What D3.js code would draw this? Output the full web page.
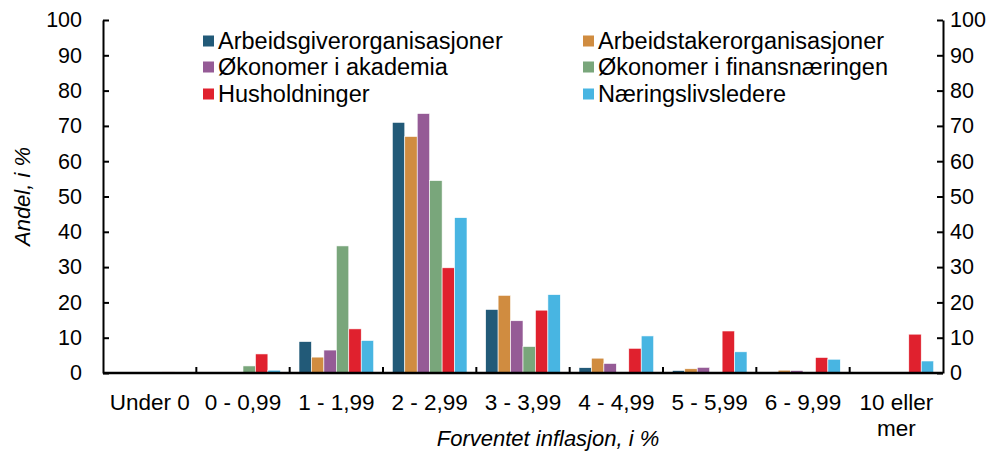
<!DOCTYPE html>
<html>
<head>
<meta charset="utf-8">
<script src="https://cdn.jsdelivr.net/npm/d3@7"></script>
<style>
  body { margin: 0; background: #fff; }
  text { font-family: "Liberation Sans", Arial, sans-serif; fill: #000; }
</style>
</head>
<body>
<script>
const categories = ["Under 0", "0 - 0,99", "1 - 1,99", "2 - 2,99", "3 - 3,99", "4 - 4,99", "5 - 5,99", "6 - 9,99", "10 eller mer"]
const seriesNames = ["Arbeidsgiverorganisasjoner", "Arbeidstakerorganisasjoner", "Økonomer i akademia",
  "Økonomer i finansnæringen", "Husholdninger", "Næringslivsledere"]
const colors = ["#225a78", "#d08c40", "#955b96", "#79a67b", "#e0212e", "#48b5e2"]

const arbeidsgiver = [0, 0, 8.9, 71, 18, 1.5, 0.7, 0, 0]
const arbeidstaker = [0, 0, 4.5, 67, 22, 4.2, 1.2, 0.8, 0]
const akademia = [0.2, 0, 6.5, 73.5, 14.8, 2.7, 1.6, 0.7, 0]
const finans = [0, 2, 36, 54.5, 7.5, 0, 0, 0, 0]
const husholdninger = [0.3, 5.4, 12.5, 29.8, 17.8, 7, 11.9, 4.4, 11]
const naeringsliv = [0, 0.8, 9.2, 44, 22.2, 10.5, 6, 3.9, 3.4]
const series = [arbeidsgiver, arbeidstaker, akademia, finans, husholdninger, naeringsliv]
const yTicks = [0, 10, 20, 30, 40, 50, 60, 70, 80, 90, 100]

const width = 1008, height = 457
const m = { left: 103, right: 65, top: 20, bottom: 84 }

const svg = d3.select("body").append("svg")
  .attr("width", width)
  .attr("height", height)

// full-width band per category, bars take the middle 80%
const xCat = d3.scaleBand()
  .domain(categories)
  .range([m.left, width - m.right])

const xSub = d3.scaleBand()
  .domain(d3.range(series.length))
  .range([0, xCat.bandwidth() * 0.8])

const y = d3.scaleLinear()
  .domain([0, 100])
  .range([height - m.bottom, m.top])

// bars
series.forEach((vals, s) => {
  svg.append("g")
    .selectAll("rect")
    .data(vals)
    .join("rect")
    .attr("x", (d, i) => xCat(categories[i]) + xCat.bandwidth() * 0.1 + xSub(s))
    .attr("y", d => y(d))
    .attr("width", xSub.bandwidth())
    .attr("height", d => y(0) - y(d))
    .attr("fill", colors[s])
    .attr("stroke", "#fff")
    .attr("stroke-width", 0.6)
})

// y axes, both sides
const yLeft = svg.append("g")
  .attr("transform", `translate(${m.left},0)`)
  .call(d3.axisLeft(y).tickValues(yTicks).tickSizeInner(-6).tickSizeOuter(0).tickPadding(21))
const yRight = svg.append("g")
  .attr("transform", `translate(${width - m.right},0)`)
  .call(d3.axisRight(y).tickValues(yTicks).tickSizeInner(-6).tickSizeOuter(0).tickPadding(7))

;[yLeft, yRight].forEach(g => {
  g.selectAll("text").style("font-size", "21.5px").attr("fill", "#000")
  g.selectAll("line").attr("stroke", "#000").attr("stroke-width", 2)
  g.select(".domain").attr("stroke", "#000").attr("stroke-width", 2)
})

// bottom axis line and boundary ticks
const xAxis = svg.append("g")
svg.append("line")
  .attr("x1", m.left).attr("x2", width - m.right)
  .attr("y1", y(0)).attr("y2", y(0))
  .attr("stroke", "#000").attr("stroke-width", 2.5)

xAxis.selectAll("line.b")
  .data(categories.slice(1))
  .join("line")
  .attr("x1", d => xCat(d)).attr("x2", d => xCat(d))
  .attr("y1", y(0)).attr("y2", y(0) - 6)
  .attr("stroke", "#000").attr("stroke-width", 2)

xAxis.selectAll("text.cat")
  .data(categories)
  .join("text")
  .attr("x", d => xCat(d) + xCat.bandwidth() / 2)
  .attr("y", y(0) + 37)
  .attr("text-anchor", "middle")
  .style("font-size", "22.5px")
  .each(function (d) {
    const t = d3.select(this)
    const parts = d === "10 eller mer" ? ["10 eller", "mer"] : [d]
    parts.forEach((p, i) => {
      t.append("tspan")
        .attr("x", xCat(d) + xCat.bandwidth() / 2)
        .attr("dy", i === 0 ? 0 : 26)
        .text(p)
    })
  })

// axis titles
svg.append("text")
  .attr("x", (m.left + width - m.right) / 2 + 25)
  .attr("y", 446)
  .attr("text-anchor", "middle")
  .style("font-size", "22px")
  .style("font-style", "italic")
  .text("Forventet inflasjon, i %")

svg.append("text")
  .attr("transform", `translate(30,${(y(0) + y(100)) / 2}) rotate(-90)`)
  .attr("text-anchor", "middle")
  .style("font-size", "22px")
  .style("font-style", "italic")
  .text("Andel, i %")

// legend
const legend = svg.append("g")
const legX = [203, 583], legY = [41, 67, 94]
seriesNames.forEach((name, i) => {
  const lx = legX[i % 2], ly = legY[Math.floor(i / 2)]
  legend.append("rect")
    .attr("x", lx).attr("y", ly - 5.5)
    .attr("width", 11).attr("height", 11)
    .attr("fill", colors[i])
  legend.append("text")
    .attr("x", lx + 15).attr("y", ly + 7.5)
    .style("font-size", "23.5px")
    .text(name)
})
</script>
</body>
</html>
